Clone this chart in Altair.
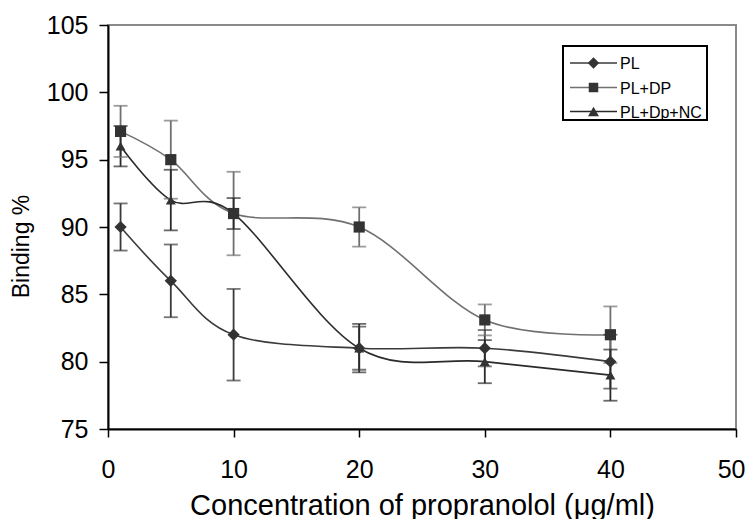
import altair as alt
import pandas as pd

# ---- data ----
conc = [1, 5, 10, 20, 30, 40]
series_names = ["PL", "PL+DP", "PL+Dp+NC"]
pl = [90, 86, 82, 81, 81, 80]
pl_err = [1.75, 2.7, 3.4, 1.6, 1.35, 2.0]
dp = [97.1, 95, 91, 90, 83.1, 82]
dp_err = [1.9, 2.9, 3.1, 1.45, 1.15, 2.1]
nc = [96, 92, 91, 81, 80, 79]
nc_err = [1.5, 2.25, 1.15, 1.8, 1.6, 1.9]

x_ticks = [0, 10, 20, 30, 40, 50]
y_ticks = [75, 80, 85, 90, 95, 100, 105]

# ---- styling ----
FONT = "Liberation Sans"
line_colors = ["#3a3a3a", "#707070", "#2a2a2a"]
bar_colors = ["#111111", "#3a3a3a", "#0a0a0a"]
shapes = ["diamond", "square", "triangle-up"]
marker_fill = "#333333"

rows = []
for name, ys, es in zip(series_names, [pl, dp, nc], [pl_err, dp_err, nc_err]):
    for c, v, e in zip(conc, ys, es):
        rows.append({"series": name, "conc": c, "binding": v,
                     "lo": v - e, "hi": v + e})
df = pd.DataFrame(rows)

xscale = alt.Scale(domain=[0, 50], nice=False)
yscale = alt.Scale(domain=[75, 105], nice=False, zero=False)
col = alt.Color("series:N", scale=alt.Scale(domain=series_names, range=line_colors), legend=None)
bcol = alt.Color("series:N", scale=alt.Scale(domain=series_names, range=bar_colors), legend=None)

x_enc = alt.X("conc:Q", scale=xscale,
              axis=alt.Axis(values=x_ticks, title="Concentration of propranolol (μg/ml)",
                            grid=False, domainColor="black", domainWidth=2,
                            tickColor="black", tickSize=8, tickWidth=1.5,
                            labelFont=FONT, labelFontSize=25, labelColor="black",
                            labelPadding=20, labelFlush=False,
                            labelAlign={"condition": {"test": "datum.value == 50", "value": "right"},
                                        "value": "center"},
                            labelOffset={"condition": {"test": "datum.value == 50", "value": 9},
                                         "value": 0},
                            titleFont=FONT, titleFontSize=29, titleFontWeight="normal",
                            titleColor="black", titleY=85, titleBaseline="alphabetic"))
y_axis = alt.Axis(values=y_ticks, title="Binding %", grid=False,
                  domainColor="black", domainWidth=2, tickColor="black",
                  tickSize=9, tickWidth=1.5, labelFont=FONT, labelFontSize=25,
                  labelColor="black", labelPadding=11, labelFlush=False,
                  titleFont=FONT, titleFontSize=23, titleFontWeight="normal",
                  titleColor="black", titleAngle=-90, titleX=-80, titleY=221,
                  titleAlign="center", titleBaseline="alphabetic")

base = alt.Chart(df)

lines = base.mark_line(interpolate="cardinal", strokeWidth=1.6).encode(
    x=x_enc,
    y=alt.Y("binding:Q", scale=yscale, axis=y_axis),
    color=col,
    detail="series:N",
)

bars = base.mark_rule(strokeWidth=1.8).encode(
    x="conc:Q", y="lo:Q", y2="hi:Q", color=bcol)
cap_lo = base.mark_tick(orient="horizontal", size=14, thickness=1.8).encode(
    x="conc:Q", y="lo:Q", color=bcol)
cap_hi = base.mark_tick(orient="horizontal", size=14, thickness=1.8).encode(
    x="conc:Q", y="hi:Q", color=bcol)

points = base.mark_point(filled=True, opacity=1, fill=marker_fill, color=marker_fill).encode(
    x="conc:Q", y="binding:Q",
    shape=alt.Shape("series:N", scale=alt.Scale(domain=series_names, range=shapes), legend=None),
    size=alt.Size("series:N", scale=alt.Scale(domain=series_names, range=[150, 100, 140]), legend=None),
)

# ---- custom legend (line through marker, like the original) ----
legend_box = alt.Chart(pd.DataFrame({"a": [0]})).mark_rect(
    fill="white", stroke="black", strokeWidth=2).encode(
    x=alt.value(455), x2=alt.value(599), y=alt.value(21), y2=alt.value(95))
legend_layers = [legend_box]
row_y = [38, 62.5, 86.5]
legend_sizes = [130, 90, 120]
for name, yy, lc, shp, sz in zip(series_names, row_y, line_colors, shapes, legend_sizes):
    ldf = pd.DataFrame({"label": [name]})
    legend_layers.append(alt.Chart(ldf).mark_rule(color=lc, strokeWidth=1.6).encode(
        x=alt.value(462), x2=alt.value(509), y=alt.value(yy)))
    legend_layers.append(alt.Chart(ldf).mark_point(
        shape=shp, filled=True, fill=marker_fill, color=marker_fill, opacity=1, size=sz).encode(
        x=alt.value(485.5), y=alt.value(yy)))
    legend_layers.append(alt.Chart(ldf).mark_text(
        align="left", baseline="middle", font=FONT, fontSize=16, color="black").encode(
        x=alt.value(512), y=alt.value(yy + 1), text="label:N"))

chart = alt.layer(lines, bars, cap_lo, cap_hi, points, *legend_layers).properties(
    width=628, height=404,
    autosize=alt.AutoSizeParams(type="none"),
    padding={"left": 100, "top": 17, "right": 9, "bottom": 90},
    background="white",
).configure_view(stroke="#8a8a8a", strokeWidth=2)

chart.save("out.html", embed_options={"renderer": "svg", "actions": False})
